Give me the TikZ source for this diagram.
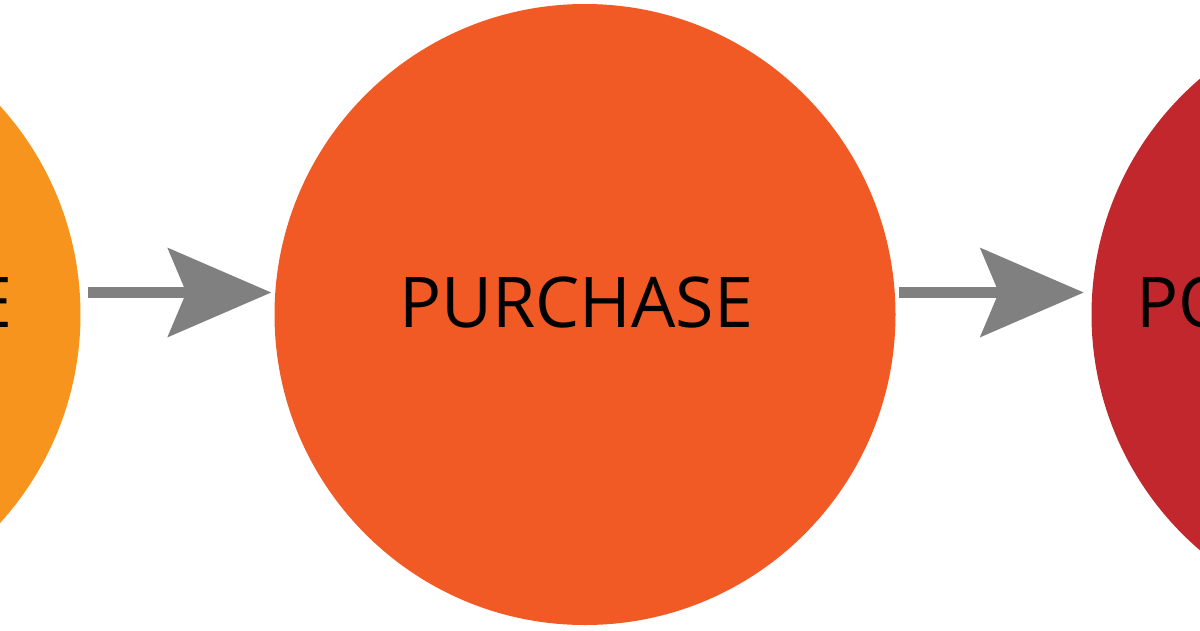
\documentclass[tikz,border=0pt]{standalone}
\usepackage{fontspec}
\setmainfont{Open Sans}
\usetikzlibrary{arrows.meta}
\definecolor{preorange}{RGB}{247,148,29}
\definecolor{purorange}{RGB}{241,90,36}
\definecolor{postred}{RGB}{193,39,45}
\definecolor{flowgray}{RGB}{128,128,128}

\begin{document}
\begin{tikzpicture}[x=1pt,y=-1pt]
\tikzstyle{stage}=[circle, minimum size=621pt, inner sep=0pt, draw=none]
\tikzstyle{stagetext}=[font=\fontsize{70}{78}\selectfont, inner sep=0pt, text=black]
\tikzstyle{flow}=[draw=flowgray, line width=11pt, -{Stealth[length=103pt,width=88pt,inset=18pt]}]
\useasboundingbox (0,0) rectangle (1200,630);
\clip (0,0) rectangle (1200,630);
\fill [white] (0,0) rectangle (1200,630);
% stages
\node [stage, fill=preorange] (pre) at (-230,314.5) {};
\node [stage, fill=purorange] (pur) at (585,314.5) {};
\node [stage, fill=postred] (post) at (1402,314.5) {};
\node [stagetext, anchor=base east] (pretext) at (13,327) {PRE-PURCHASE};
\node [stagetext, anchor=base] (purtext) at (576,327) {PURCHASE};
\node [stagetext, anchor=base west] (posttext) at (1136,327) {POST-PURCHASE};
% flow arrows
\draw [flow, shorten <=7pt, shorten >=3pt] ([yshift=22pt]pre.east) -- ([yshift=22pt]pur.west);
\draw [flow, shorten <=3.5pt, shorten >=7.5pt] ([yshift=22pt]pur.east) -- ([yshift=22pt]post.west);
\end{tikzpicture}
\end{document}
